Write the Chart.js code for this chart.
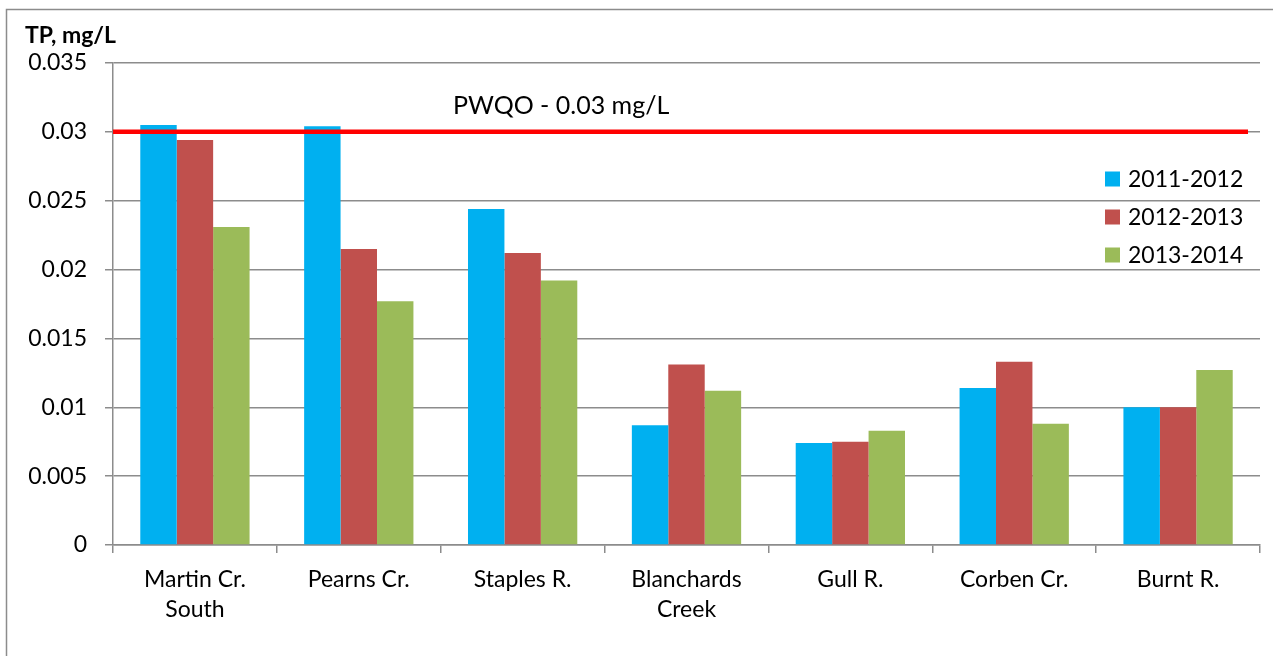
<!DOCTYPE html>
<html>
<head>
<meta charset="utf-8">
<script src="https://cdn.jsdelivr.net/npm/chart.js@4"></script>
<style>
  body { margin: 0; background: #fff; }
  #wrap { width: 1273px; height: 656px; }
</style>
</head>
<body>
<div id="wrap"><canvas id="myChart" width="1273" height="656"></canvas></div>
<script>
var sites = [['Martin Cr.', 'South'], 'Pearns Cr.', 'Staples R.', ['Blanchards', 'Creek'], 'Gull R.', 'Corben Cr.', 'Burnt R.'];
var seriesNames = ['2011-2012', '2012-2013', '2013-2014'];
var tp2011 = [0.0305, 0.0304, 0.0244, 0.0087, 0.0074, 0.0114, 0.0100];
var tp2012 = [0.0294, 0.0215, 0.0212, 0.0131, 0.0075, 0.0133, 0.0100];
var tp2013 = [0.0231, 0.0177, 0.0192, 0.0112, 0.0083, 0.0088, 0.0127];
var yTicks = [0, 0.005, 0.01, 0.015, 0.02, 0.025, 0.03, 0.035];
var pwqo = 0.03;
var colors = ['#00b0f0', '#c0504d', '#9bbb59'];
var font = 'Lato, "Noto Sans", sans-serif';

var extras = {
  id: 'extras',
  beforeDraw: function(chart) {
    var c = chart.ctx;
    c.save();
    c.fillStyle = '#fff';
    c.fillRect(0, 0, chart.width, chart.height);
    c.strokeStyle = '#8c8c8c';
    c.lineWidth = 1.5;
    c.beginPath();
    c.moveTo(6.5, 700);
    c.lineTo(6.5, 9.5);
    c.lineTo(1280, 9.5);
    c.stroke();
    c.restore();
  },
  afterDatasetsDraw: function(chart) {
    var c = chart.ctx;
    var y = chart.scales.y.getPixelForValue(pwqo);
    var area = chart.chartArea;
    c.save();
    c.strokeStyle = '#ff0000';
    c.lineWidth = 4.5;
    c.beginPath();
    c.moveTo(area.left, y);
    c.lineTo(area.right - 12, y);
    c.stroke();
    c.fillStyle = '#000';
    c.font = '25px ' + font;
    c.textBaseline = 'middle';
    c.fillText('PWQO - 0.03 mg/L', 453, 106);
    c.font = 'bold 23px ' + font;
    c.fillText('TP, mg/L', 25, 36);
    // legend inside plot
    c.font = '23px ' + font;
    for (var i = 0; i < seriesNames.length; i++) {
      var ly = 179 + i * 38;
      c.fillStyle = colors[i];
      c.fillRect(1105, ly - 7.5, 15, 15);
      c.fillStyle = '#000';
      c.fillText(seriesNames[i], 1128, ly + 1);
    }
    c.restore();
  }
};

var ctx = document.getElementById('myChart').getContext('2d');
var myChart = new Chart(ctx, {
  type: 'bar',
  data: {
    labels: sites,
    datasets: [
      { label: seriesNames[0], data: tp2011, backgroundColor: colors[0] },
      { label: seriesNames[1], data: tp2012, backgroundColor: colors[1] },
      { label: seriesNames[2], data: tp2013, backgroundColor: colors[2] }
    ]
  },
  options: {
    responsive: false,
    animation: false,
    layout: { padding: { top: 63, right: 13, left: 0, bottom: 0 } },
    datasets: { bar: { categoryPercentage: 0.667, barPercentage: 1 } },
    plugins: { legend: { display: false }, tooltip: { enabled: false } },
    scales: {
      x: {
        grid: { offset: true, drawOnChartArea: false, color: '#8c8c8c', tickLength: 8, lineWidth: 1.5 },
        border: { color: '#8c8c8c', width: 1.5 },
        ticks: { color: '#000', font: { family: font, size: 23, lineHeight: 1.3 }, padding: 12, maxRotation: 0 },
        afterFit: function(s) { s.height = 111; }
      },
      y: {
        min: 0, max: 0.035,
        afterBuildTicks: function(s) { s.ticks = yTicks.map(function(v) { return { value: v }; }); },
        grid: { color: '#8c8c8c', lineWidth: 1.5, tickLength: 8 },
        border: { color: '#8c8c8c', width: 1.5 },
        ticks: {
          color: '#000', font: { family: font, size: 23 }, padding: 18,
          callback: function(v) { return String(v); }
        },
        afterFit: function(s) { s.width = 113; }
      }
    }
  },
  plugins: [extras]
});
</script>
</body>
</html>
